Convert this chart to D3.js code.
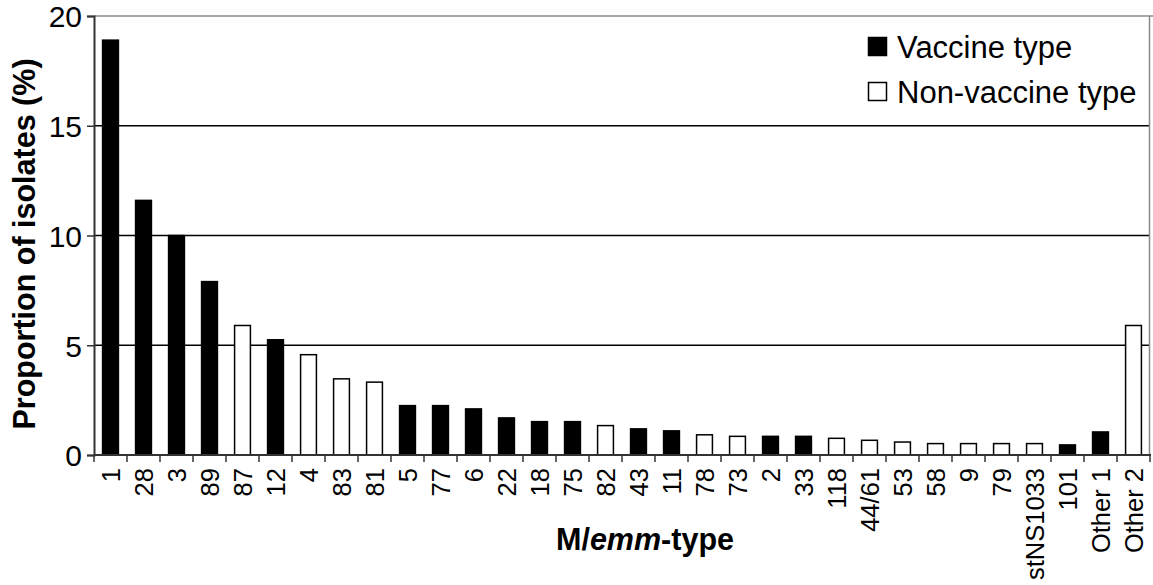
<!DOCTYPE html>
<html>
<head>
<meta charset="utf-8">
<script src="https://cdn.jsdelivr.net/npm/d3@7/dist/d3.min.js"></script>
<style>
  html, body { margin: 0; padding: 0; background: #fff; }
  svg { display: block; font-family: "Liberation Sans", Arial, sans-serif; }
</style>
</head>
<body>
<svg id="chart" width="1153" height="585"></svg>
<script>
const categories = ["1","28","3","89","87","12","4","83","81","5","77","6","22","18","75","82","43","11","78","73","2","33","118","44/61","53","58","9","79","stNS1033","101","Other 1","Other 2"];
const values = [18.9,11.6,10.0,7.9,5.9,5.25,4.57,3.47,3.32,2.25,2.25,2.1,1.69,1.52,1.52,1.34,1.19,1.1,0.92,0.85,0.85,0.85,0.76,0.67,0.59,0.52,0.52,0.52,0.52,0.46,1.05,5.9];
const vaccineType = [true,true,true,true,false,true,false,false,false,true,true,true,true,true,true,false,true,true,false,false,true,true,false,false,false,false,false,false,false,true,true,false];
const yTicks = [0,5,10,15,20];
const legendLabels = ["Vaccine type","Non-vaccine type"];
const legendVaccine = [true,false];

(function(){
const data = categories.map((c,i)=>({cat:c, value:values[i], vaccine:vaccineType[i]}));

const svg = d3.select("#chart");
const mLeft = 94, mRight = 1150, mTop = 16, mBottom = 455;

const x = d3.scaleBand().domain(categories).range([mLeft,mRight]).paddingInner(0.52).paddingOuter(0.26);
const y = d3.scaleLinear().domain([0,20]).range([mBottom,mTop]);
const step = x.step();
const half = step*x.paddingInner()/2;

// gridlines
svg.append("g").selectAll("line").data(yTicks.filter(t=>t>0 && t<20)).join("line")
  .attr("x1",mLeft).attr("x2",mRight)
  .attr("y1",d=>y(d)).attr("y2",d=>y(d))
  .attr("stroke","#000").attr("stroke-width",1.4);

// top border and right border
svg.append("line").attr("x1",mLeft).attr("x2",1153).attr("y1",y(20)).attr("y2",y(20))
  .attr("stroke","#8a8a8a").attr("stroke-width",1.5);
svg.append("line").attr("x1",mRight-0.5).attr("x2",mRight-0.5).attr("y1",y(20)).attr("y2",mBottom)
  .attr("stroke","#8a8a8a").attr("stroke-width",1.5);

// bars
svg.append("g").selectAll("rect").data(data).join("rect")
  .attr("x",d=>x(d.cat))
  .attr("width",x.bandwidth())
  .attr("y",d=>y(d.value))
  .attr("height",d=>y(0)-y(d.value))
  .attr("fill",d=>d.vaccine?"#000":"#fff")
  .attr("stroke","#000").attr("stroke-width",1.5);

// y axis
const yAxis = svg.append("g").attr("transform",`translate(${mLeft},0)`)
  .call(d3.axisLeft(y).tickValues(yTicks).tickSize(7).tickPadding(5).tickFormat(d3.format("d")));
yAxis.select(".domain").attr("stroke","#333").attr("stroke-width",2);
yAxis.selectAll(".tick line").attr("stroke","#333").attr("stroke-width",1.5);
yAxis.selectAll(".tick text").attr("font-size",30).attr("fill","#000")
  .attr("font-family","Liberation Sans, Arial, sans-serif").attr("dy","0.36em");

// x axis labels
const xAxis = svg.append("g").attr("transform",`translate(0,${mBottom})`)
  .call(d3.axisBottom(x).tickSize(0).tickPadding(0));
xAxis.select(".domain").remove();
xAxis.selectAll(".tick text")
  .attr("font-size",25.5).attr("fill","#000")
  .attr("font-family","Liberation Sans, Arial, sans-serif")
  .attr("transform","rotate(-90)")
  .attr("text-anchor","end")
  .attr("x",-13).attr("y",0).attr("dy","0.36em");

// x baseline and boundary ticks
svg.append("line").attr("x1",mLeft).attr("x2",mRight+1).attr("y1",mBottom).attr("y2",mBottom)
  .attr("stroke","#333").attr("stroke-width",2);
const boundaries = categories.map(c=>x(c)-half).concat([x(categories[categories.length-1])+x.bandwidth()+half]);
svg.append("g").selectAll("line").data(boundaries).join("line")
  .attr("x1",d=>d).attr("x2",d=>d).attr("y1",mBottom).attr("y2",mBottom+7)
  .attr("stroke","#333").attr("stroke-width",1.5);

// axis titles
svg.append("text")
  .attr("transform","translate(35,244) rotate(-90)")
  .attr("text-anchor","middle")
  .attr("font-size",30.5).attr("font-weight","bold")
  .text("Proportion of isolates (%)");

const xt = svg.append("text").attr("x",645).attr("y",550).attr("text-anchor","middle")
  .attr("font-size",30.5).attr("font-weight","bold");
xt.append("tspan").text("M/");
xt.append("tspan").attr("font-style","italic").text("emm");
xt.append("tspan").text("-type");

// legend
const leg = svg.append("g");
legendLabels.forEach((lab,i)=>{
  const cy = 47 + i*45;
  leg.append("rect").attr("x",868.5).attr("y",cy-9.5).attr("width",18).attr("height",18)
    .attr("fill",legendVaccine[i]?"#000":"#fff").attr("stroke","#000").attr("stroke-width",1.5);
  leg.append("text").attr("x",897).attr("y",cy).attr("dy","0.36em")
    .attr("font-size",31).text(lab);
});
})();
</script>
</body>
</html>
